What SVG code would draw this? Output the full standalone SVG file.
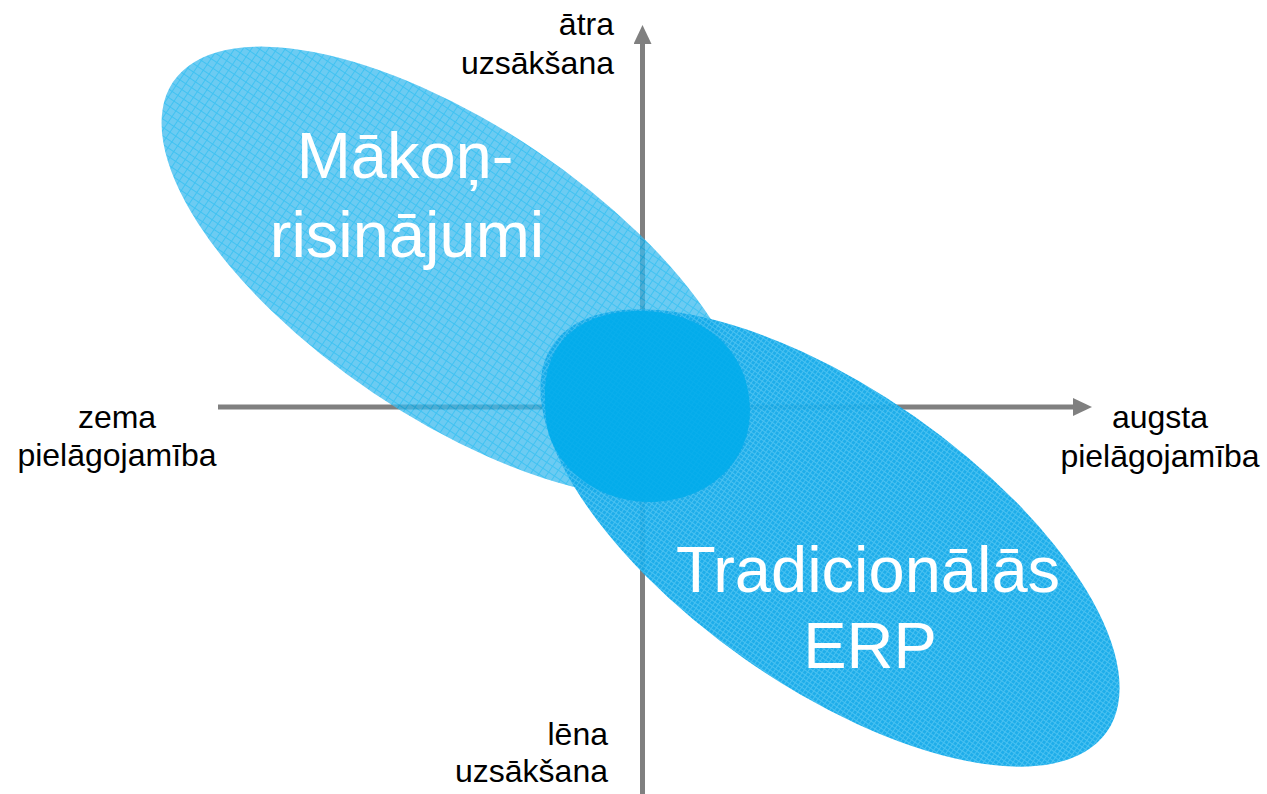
<svg xmlns="http://www.w3.org/2000/svg" width="1267" height="794" viewBox="0 0 1267 794">
  <style>
    .axis { stroke: #808080; stroke-width: 5; fill: none; }
    .lbl { font-family: "Liberation Sans", Arial, sans-serif; font-size: 32px; fill: #000000; }
    .big { font-family: "Liberation Sans", Arial, sans-serif; font-size: 65px; fill: #ffffff; text-anchor: middle; }
  </style>
  <defs>
    <marker id="arrow" viewBox="0 0 19 18" markerWidth="19" markerHeight="18" refX="0" refY="9" orient="auto" markerUnits="userSpaceOnUse">
      <path d="M0,0 L19,9 L0,18 Z" fill="#808080"/>
    </marker>
    <pattern id="gridCloud" width="7" height="7" patternUnits="userSpaceOnUse">
      <rect width="7" height="7" fill="#3BBAEE"/>
      <rect width="7" height="1" fill="#00AEEE"/>
      <rect width="1" height="7" fill="#00AEEE"/>
    </pattern>
    <pattern id="gridErp" width="4" height="4" patternUnits="userSpaceOnUse">
      <rect width="4" height="4" fill="#12A9E9"/>
      <rect width="4" height="1" fill="#40BEF0"/>
      <rect width="1" height="4" fill="#40BEF0"/>
    </pattern>
  </defs>

  <g id="axes">
    <line class="axis" x1="218" y1="407" x2="1073" y2="407" marker-end="url(#arrow)"/>
    <line class="axis" x1="642.5" y1="794" x2="642.5" y2="44" marker-end="url(#arrow)"/>
  </g>

  <g id="cloud">
    <ellipse cx="455" cy="272" rx="340" ry="146" transform="rotate(34 455 272)" fill="url(#gridCloud)" opacity="0.75"/>
    <text class="big" x="405" y="178">Mākoņ-</text>
    <text class="big" x="407" y="257">risinājumi</text>
  </g>

  <g id="erp">
    <ellipse cx="830" cy="538" rx="338" ry="148" transform="rotate(35 830 538)" fill="url(#gridErp)" opacity="0.95"/>
  </g>

  <g id="overlap">
    <path d="M545,395 C545,340 582,311 640,311 C705,311 750,352 750,410 C750,465 705,502 650,502 C603,502 565,475 551,440 C546,428 545,412 545,395 Z" fill="#00ACEB" opacity="0.85"/>
  </g>

  <g id="erp-label">
    <text class="big" x="868" y="592">Tradicionālās</text>
    <text class="big" x="870" y="668">ERP</text>
  </g>

  <g id="labels">
    <text class="lbl" x="614" y="35" text-anchor="end">ātra</text>
    <text class="lbl" x="614" y="74" text-anchor="end">uzsākšana</text>
    <text class="lbl" x="117" y="428" text-anchor="middle">zema</text>
    <text class="lbl" x="117" y="466" text-anchor="middle">pielāgojamība</text>
    <text class="lbl" x="1160" y="428" text-anchor="middle">augsta</text>
    <text class="lbl" x="1160" y="467" text-anchor="middle">pielāgojamība</text>
    <text class="lbl" x="608" y="745" text-anchor="end">lēna</text>
    <text class="lbl" x="608" y="782" text-anchor="end">uzsākšana</text>
  </g>
</svg>
